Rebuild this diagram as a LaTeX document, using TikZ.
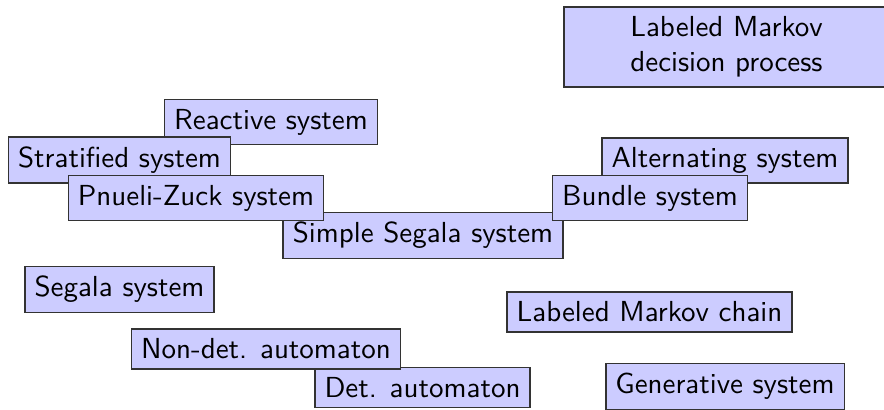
\documentclass[tikz,border=0pt]{standalone}
\usepackage{tikz}
\usetikzlibrary{positioning}
\tikzset{
  sysbox/.style={draw=black!80,fill=blue!20,font=\sffamily,line width=0.5pt},
  sysboxtwo/.style={sysbox,align=center,minimum width=112pt},
}

\begin{document}
\begin{tikzpicture}[x=0.345pt,y=-0.345pt]
  \useasboundingbox (0,0) rectangle (884,409);
  \node[sysboxtwo] (lmdp) at (726.5,47) {Labeled Markov\\decision process};
  \node[sysbox] (rs) at (271,122) {Reactive system};
  \node[sysbox] (sts) at (119.5,160) {Stratified system};
  \node[sysbox] (sss) at (423,235.5) {Simple Segala system};
  \node[sysbox] (pzs) at (196,198) {Pnueli-Zuck system};
  \node[sysbox] (as) at (725,160.5) {Alternating system};
  \node[sysbox] (bs) at (650,198) {Bundle system};
  \node[sysbox] (segs) at (119.5,289.5) {Segala system};
  \node[sysbox] (lmc) at (649.5,312) {Labeled Markov chain};
  \node[sysbox] (da) at (422.5,387.5) {Det. automaton};
  \node[sysbox] (nda) at (266,349) {Non-det. automaton};
  \node[sysbox] (gs) at (725,386.5) {Generative system};
\end{tikzpicture}
\end{document}
